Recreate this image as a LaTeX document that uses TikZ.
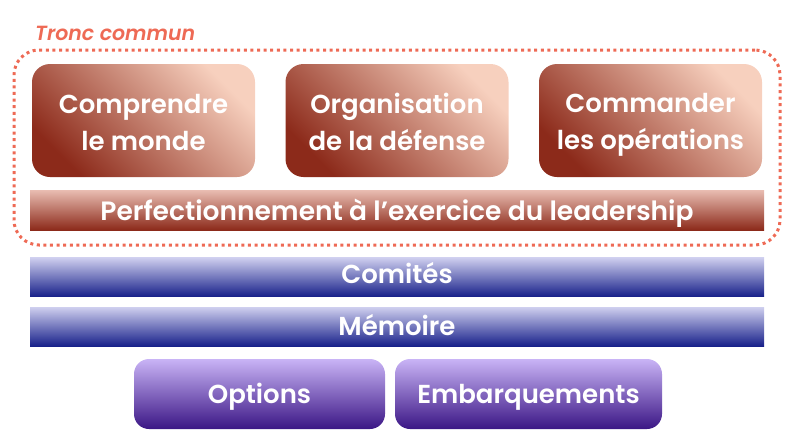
\documentclass[tikz,border=0pt]{standalone}
\usepackage{fontspec}
\setmainfont{Poppins}[BoldFont={Poppins SemiBold}, BoldItalicFont={Poppins SemiBold Italic}]
\definecolor{coral}{HTML}{EE6A55}
\definecolor{rdark}{HTML}{8C2A1A}
\definecolor{rlight}{HTML}{F7D0BE}
\definecolor{rbarlight}{HTML}{E9BDB2}
\definecolor{bdark}{HTML}{18218A}
\definecolor{blight}{HTML}{CFCFEF}
\definecolor{pdark}{HTML}{3B1685}
\definecolor{plight}{HTML}{C9B4F6}
\newcommand\lstrut{\rule[-5pt]{0pt}{33pt}}
\tikzset{
  redbox/.style={rounded corners=18pt, minimum width=223pt, minimum height=113pt, inner sep=0pt,
    top color=rlight, bottom color=rdark, shading angle=-45, text=white, align=center,
    font=\fontsize{26}{37}\selectfont\bfseries},
  redbar/.style={minimum width=734pt, minimum height=40pt, inner sep=0pt,
    top color=rbarlight, bottom color=rdark, text=white, font=\fontsize{26.5}{30}\selectfont\bfseries},
  bluebar/.style={minimum width=734pt, minimum height=39pt, inner sep=0pt,
    top color=blight, bottom color=bdark, text=white, font=\fontsize{26}{30}\selectfont\bfseries},
  purplebox/.style={rounded corners=15pt, minimum height=70pt, inner sep=0pt,
    top color=plight, bottom color=pdark, text=white, font=\fontsize{26}{30}\selectfont\bfseries},
  dotframe/.style={draw=coral, line width=3pt, dash pattern=on 3pt off 3.6pt, rounded corners=25pt}
}
\begin{document}
\begin{tikzpicture}[x=1pt,y=-1pt]
\useasboundingbox (0,0) rectangle (792,445);
\node[dotframe, minimum width=766pt, minimum height=195pt] (frame) at (397,147.5) {};
\node[anchor=base west, text=coral, font=\fontsize{20.5}{24}\selectfont\bfseries\itshape, inner sep=0pt] (tronc) at (35,40) {Tronc commun};
\node[redbox] (b1) at (143.5,120.5) {Comprendre\lstrut\\le monde\lstrut};
\node[redbox] (b2) at (397,120.5) {Organisation\lstrut\\de la défense\lstrut};
\node[redbox] (b3) at (650.5,120.5) {Commander\lstrut\\les opérations\lstrut};
\node[redbar, text height=20pt, text depth=0pt] (lead) at (397,210) {Perfectionnement à l’exercice du leadership};
\node[bluebar, text height=18pt, text depth=6pt] (com) at (397,277) {Comités};
\node[bluebar, text height=20pt, text depth=3pt] (mem) at (397,326.5) {Mémoire};
\node[purplebox, text height=20pt, text depth=2pt, minimum width=251pt] (opt) at (259.5,394) {Options};
\node[purplebox, text height=20pt, text depth=2pt, minimum width=267pt] (emb) at (528.5,394) {Embarquements};
\end{tikzpicture}
\end{document}
